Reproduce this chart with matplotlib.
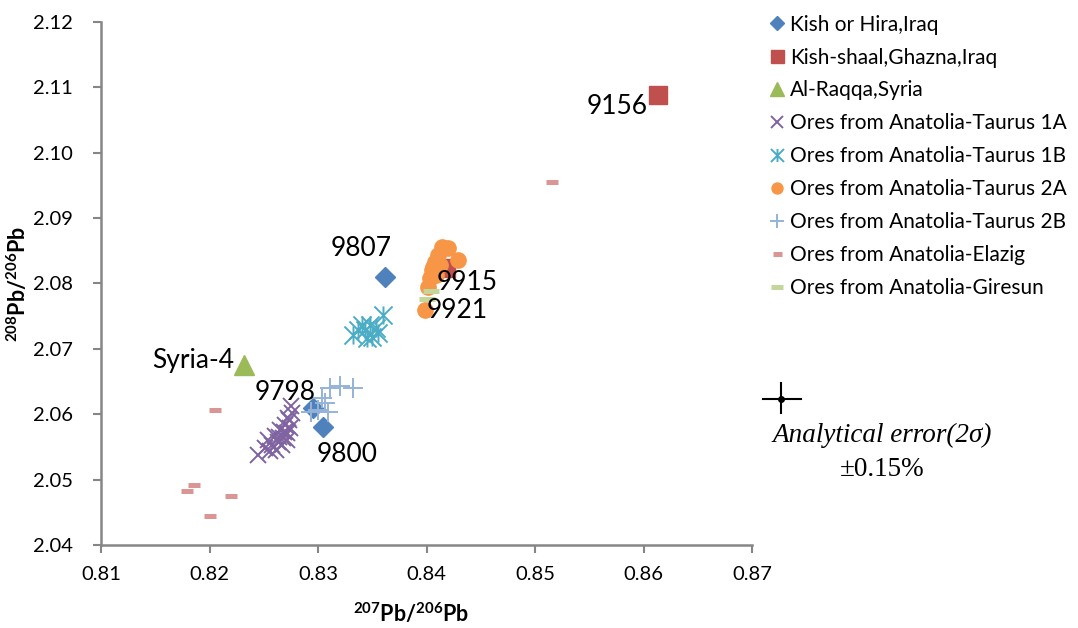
import matplotlib
matplotlib.use("Agg")
import matplotlib.pyplot as plt
from matplotlib.path import Path
from matplotlib.lines import Line2D

plt.rcParams['font.family'] = ['Lato', 'DejaVu Sans']
plt.rcParams['mathtext.fontset'] = 'custom'
plt.rcParams['mathtext.rm'] = 'Lato'
plt.rcParams['mathtext.bf'] = 'Lato:bold'
plt.rcParams['mathtext.it'] = 'Lato:italic'

# --- data (207Pb/206Pb, 208Pb/206Pb) ---
kish_hira_x = [0.8362, 0.8295, 0.8305]
kish_hira_y = [2.0810, 2.0610, 2.0581]

kish_shaal_x = [0.8613, 0.8418]
kish_shaal_y = [2.1088, 2.0824]

raqqa_x = [0.8232]
raqqa_y = [2.0676]

taurus1a_x = [0.8245, 0.8251, 0.8254, 0.8258, 0.8260, 0.8263, 0.8265, 0.8268,
              0.8270, 0.8271, 0.8273, 0.8274, 0.8276, 0.8261, 0.8267, 0.8256,
              0.8271, 0.8272, 0.8269, 0.8264, 0.8275]
taurus1a_y = [2.0538, 2.0549, 2.0561, 2.0553, 2.0567, 2.0558, 2.0576, 2.0564,
              2.0584, 2.0572, 2.0591, 2.0579, 2.0602, 2.0546, 2.0553, 2.0543,
              2.0561, 2.0594, 2.0573, 2.0565, 2.0613]

taurus1b_x = [0.8332, 0.8343, 0.8348, 0.8353, 0.8360, 0.8350, 0.8345, 0.8355,
              0.8341, 0.8337]
taurus1b_y = [2.0721, 2.0729, 2.0737, 2.0732, 2.0752, 2.0718, 2.0717, 2.0724,
              2.0737, 2.0729]

taurus2a_x = [0.8414, 0.8420, 0.8429, 0.8408, 0.8405, 0.8403, 0.8401, 0.8399,
              0.8411, 0.8406, 0.8409, 0.8412]
taurus2a_y = [2.0856, 2.0854, 2.0836, 2.0833, 2.0821, 2.0809, 2.0795, 2.0760,
              2.0844, 2.0825, 2.0813, 2.0828]

taurus2b_x = [0.8294, 0.8300, 0.8306, 0.8309, 0.8311, 0.8320, 0.8332, 0.8304]
taurus2b_y = [2.0604, 2.0607, 2.0617, 2.0604, 2.0640, 2.0643, 2.0640, 2.0625]

elazig_x = [0.8205, 0.8179, 0.8186, 0.8220, 0.8200, 0.8516]
elazig_y = [2.0607, 2.0483, 2.0491, 2.0475, 2.0445, 2.0955]

giresun_x = [0.8404, 0.8400]
giresun_y = [2.0789, 2.0776]

sample_labels = ["9807", "9156", "9915", "9921", "Syria-4", "9798", "9800"]
label_x = [0.8340, 0.8576, 0.8437, 0.8428, 0.8185, 0.8270, 0.8327]
label_y = [2.0853, 2.1070, 2.0802, 2.0758, 2.0682, 2.0634, 2.0539]

x_ticks = [0.81, 0.82, 0.83, 0.84, 0.85, 0.86, 0.87]
y_ticks = [2.04, 2.05, 2.06, 2.07, 2.08, 2.09, 2.10, 2.11, 2.12]

# asterisk like Excel: X with a vertical line
asterisk = Path([(-0.5, -0.5), (0.5, 0.5), (-0.5, 0.5), (0.5, -0.5), (0, -0.5), (0, 0.5)],
                [Path.MOVETO, Path.LINETO, Path.MOVETO, Path.LINETO, Path.MOVETO, Path.LINETO])

fig = plt.figure(figsize=(10.78, 6.28), dpi=100)
ax = fig.add_axes([0.0937, 0.1322, 0.6039, 0.8328])

ax.plot(kish_hira_x, kish_hira_y, ls='none', marker='D', ms=10, color='#4F81BD',
        mec='#4F81BD', label='Kish or Hira,Iraq')
ax.plot(kish_shaal_x, kish_shaal_y, ls='none', marker='s', ms=13, color='#C0504D',
        mec='#C0504D', label='Kish-shaal,Ghazna,Iraq')
ax.plot(raqqa_x, raqqa_y, ls='none', marker='^', ms=14, color='#9BBB59',
        mec='#9BBB59', label='Al-Raqqa,Syria')
ax.plot(taurus1a_x, taurus1a_y, ls='none', marker='x', ms=12, mew=1.4, color='#8064A2',
        label='Ores from Anatolia-Taurus 1A')
ax.plot(taurus1b_x, taurus1b_y, ls='none', marker=asterisk, ms=13, mew=1.4, color='#4BACC6',
        label='Ores from Anatolia-Taurus 1B')
ax.plot(taurus2a_x, taurus2a_y, ls='none', marker='o', ms=11, color='#F79646',
        mec='#F79646', label='Ores from Anatolia-Taurus 2A')
ax.plot(taurus2b_x, taurus2b_y, ls='none', marker='+', ms=14, mew=1.4, color='#95B3D7',
        label='Ores from Anatolia-Taurus 2B')
ax.plot(elazig_x, elazig_y, ls='none', marker='_', ms=9, mew=3.6, color='#D99694',
        label='Ores from Anatolia-Elazig')
ax.plot(giresun_x, giresun_y, ls='none', marker='_', ms=12, mew=3.6, color='#C3D69B',
        label='Ores from Anatolia-Giresun')

for t, tx, ty in zip(sample_labels, label_x, label_y):
    ax.text(tx, ty, t, fontsize=19, ha='center', va='center', color='black')

ax.set_xlim(0.81, 0.87)
ax.set_ylim(2.04, 2.12)
ax.set_xticks(x_ticks)
ax.set_yticks(y_ticks)
ax.set_xticklabels([f"{v:.2f}" for v in x_ticks])
ax.set_yticklabels([f"{v:.2f}" for v in y_ticks])
ax.tick_params(labelsize=14.5, labelcolor='black', color='#868686', length=6, width=1.5,
               direction='out')
ax.tick_params(axis='y', pad=14)
ax.tick_params(axis='x', pad=9)
for s in ['top', 'right']:
    ax.spines[s].set_visible(False)
for s in ['left', 'bottom']:
    ax.spines[s].set_color('#868686')
    ax.spines[s].set_linewidth(1.8)

ax.set_xlabel(r'${}^{\mathbf{207}}\mathbf{Pb/}{}^{\mathbf{206}}\mathbf{Pb}$', fontsize=15.5)
ax.xaxis.set_label_coords(0.476, -0.108)
ax.set_ylabel(r'${}^{\mathbf{208}}\mathbf{Pb/}{}^{\mathbf{206}}\mathbf{Pb}$', fontsize=15.5, labelpad=2)

fig.legend(loc='upper left', bbox_to_anchor=(0.706, 0.99), frameon=False, fontsize=15,
           markerscale=0.72, handlelength=0.7, handletextpad=0.3, labelspacing=0.62,
           borderaxespad=0)

# analytical error symbol
cx, cy = 781 / 1078, 1 - 399 / 628
fig.add_artist(Line2D([763 / 1078, 801 / 1078], [cy, cy], color='black', lw=1.5))
fig.add_artist(Line2D([cx, cx], [1 - 383 / 628, 1 - 413 / 628], color='black', lw=1.5))
fig.add_artist(Line2D([cx], [cy], marker='o', ms=4, color='black'))
fig.text(0.818, 1 - 435 / 628, 'Analytical error(2σ)', fontsize=19.5, style='italic',
         family='Liberation Serif', ha='center', va='center')
fig.text(0.818, 1 - 470 / 628, '±0.15%', fontsize=19.5, family='Liberation Serif',
         ha='center', va='center')

fig.savefig('out.png', dpi=100)
